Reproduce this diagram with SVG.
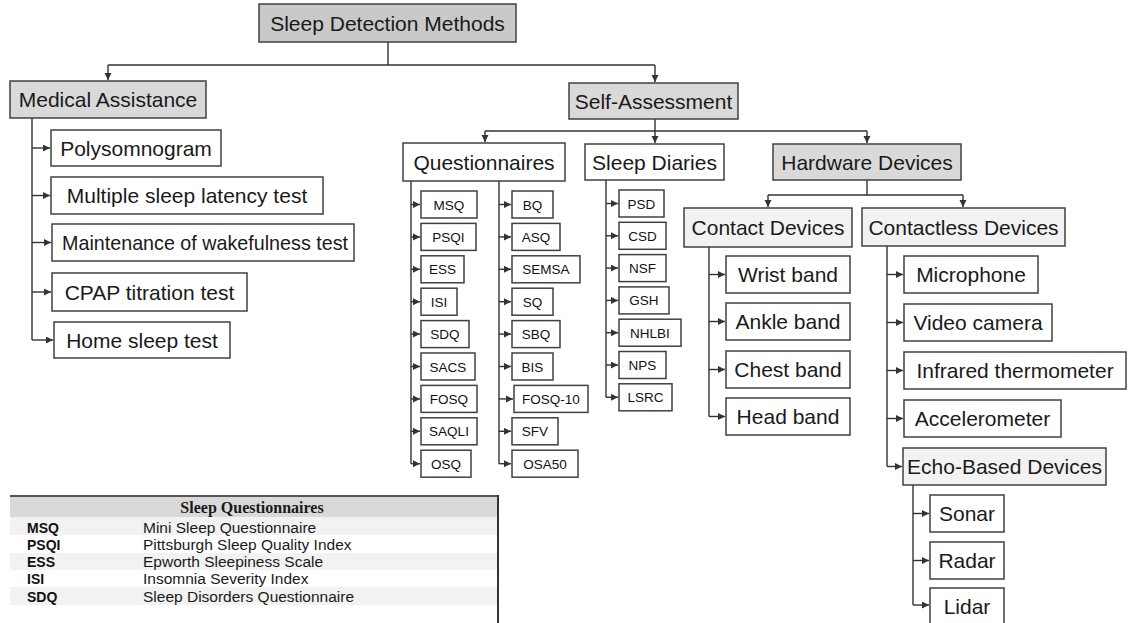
<svg xmlns="http://www.w3.org/2000/svg" width="1128" height="623" viewBox="0 0 1128 623">
<style>
.b{stroke:#404040;stroke-width:1.5;fill:#fff}
.g1{fill:#c9c9c9}
.g2{fill:#d9d9d9}
.g3{fill:#f2f2f2}
.t{font-family:"Liberation Sans",Arial,sans-serif;font-size:21px;fill:#1a1a1a;text-anchor:middle}
.s{font-family:"Liberation Sans",Arial,sans-serif;font-size:13.5px;fill:#111;text-anchor:middle}
.c{fill:none;stroke:#333;stroke-width:1.4}
.a{fill:none;stroke:#333;stroke-width:1.4;marker-end:url(#ah)}
.th{font-family:"Liberation Serif","Times New Roman",serif;font-size:16px;font-weight:bold;fill:#1a1a1a;text-anchor:middle}
.ab{font-family:"Liberation Sans",Arial,sans-serif;font-size:14px;font-weight:bold;fill:#111}
.de{font-family:"Liberation Sans",Arial,sans-serif;font-size:15.5px;fill:#1a1a1a}
</style>
<defs>
<marker id="ah" markerUnits="userSpaceOnUse" markerWidth="8" markerHeight="8" refX="7" refY="3.5" orient="auto">
<path d="M0,0 L7,3.5 L0,7 z" fill="#333"/>
</marker>
</defs>
<rect width="1128" height="623" fill="#fff"/>

<g id="connectors">
<path class="c" d="M388,42 V65 M108,65 H655"/>
<path class="a" d="M108,65 V80"/>
<path class="a" d="M655,65 V82"/>
<path class="c" d="M32,118 V340"/>
<path class="a" d="M32,148 H50"/>
<path class="a" d="M32,195.5 H50"/>
<path class="a" d="M32,242.5 H51"/>
<path class="a" d="M32,292 H51"/>
<path class="a" d="M32,340 H53"/>
<path class="c" d="M655,119 V131 M485,131 H867"/>
<path class="a" d="M485,131 V142"/>
<path class="a" d="M655,131 V143"/>
<path class="a" d="M867,131 V143"/>
<path class="c" d="M411,181 V463.7"/>
<path class="a" d="M411,204.5 H420"/>
<path class="a" d="M411,236.9 H420"/>
<path class="a" d="M411,269.3 H420"/>
<path class="a" d="M411,301.7 H420"/>
<path class="a" d="M411,334.1 H420"/>
<path class="a" d="M411,366.5 H420"/>
<path class="a" d="M411,398.9 H420"/>
<path class="a" d="M411,431.3 H420"/>
<path class="a" d="M411,463.7 H420"/>
<path class="c" d="M499,181 V463.7"/>
<path class="a" d="M499,204.5 H511"/>
<path class="a" d="M499,236.9 H511"/>
<path class="a" d="M499,269.3 H511"/>
<path class="a" d="M499,301.7 H511"/>
<path class="a" d="M499,334.1 H511"/>
<path class="a" d="M499,366.5 H511"/>
<path class="a" d="M499,398.9 H513"/>
<path class="a" d="M499,431.3 H511"/>
<path class="a" d="M499,463.7 H511"/>
<path class="c" d="M606,180 V397.3"/>
<path class="a" d="M606,203.5 H618"/>
<path class="a" d="M606,235.8 H618"/>
<path class="a" d="M606,268.1 H618"/>
<path class="a" d="M606,300.4 H618"/>
<path class="a" d="M606,332.7 H618"/>
<path class="a" d="M606,365 H618"/>
<path class="a" d="M606,397.3 H618"/>
<path class="c" d="M867,180 V195 M768,195 H963"/>
<path class="a" d="M768,195 V207"/>
<path class="a" d="M963,195 V207"/>
<path class="c" d="M709,247 V416.5"/>
<path class="a" d="M709,274.5 H725"/>
<path class="a" d="M709,321.5 H725"/>
<path class="a" d="M709,369.5 H725"/>
<path class="a" d="M709,416.5 H725"/>
<path class="c" d="M887,246 V466.5"/>
<path class="a" d="M887,274.5 H903"/>
<path class="a" d="M887,322.5 H903"/>
<path class="a" d="M887,370.5 H903"/>
<path class="a" d="M887,418.5 H903"/>
<path class="a" d="M887,466.5 H902"/>
<path class="c" d="M913,485 V605"/>
<path class="a" d="M913,513.5 H929"/>
<path class="a" d="M913,560.5 H929"/>
<path class="a" d="M913,605 H929"/>
</g>

<g id="sleep-detection-methods"><rect class="b g1" x="259" y="4" width="257" height="38"/><text class="t" x="387.5" y="30.5">Sleep Detection Methods</text></g>
<g id="medical-assistance"><rect class="b g2" x="10" y="81" width="196" height="37"/><text class="t" x="108" y="107">Medical Assistance</text></g>
<g id="self-assessment"><rect class="b g2" x="569" y="83" width="169" height="36"/><text class="t" x="653.5" y="108.5">Self-Assessment</text></g>

<g id="polysomnogram"><rect class="b" x="51" y="130" width="170" height="36"/><text class="t" x="136" y="155.5">Polysomnogram</text></g>
<g id="mslt"><rect class="b" x="51" y="177" width="272" height="37"/><text class="t" x="187" y="203">Multiple sleep latency test</text></g>
<g id="mwt"><rect class="b" x="52" y="224" width="302" height="37"/><text class="t" x="205" y="250" textLength="286" lengthAdjust="spacingAndGlyphs">Maintenance of wakefulness test</text></g>
<g id="cpap"><rect class="b" x="52" y="273" width="195" height="38"/><text class="t" x="149.5" y="299.5">CPAP titration test</text></g>
<g id="home-sleep-test"><rect class="b" x="54" y="322" width="176" height="36"/><text class="t" x="142" y="347.5">Home sleep test</text></g>

<g id="questionnaires"><rect class="b" x="403" y="143" width="162" height="38"/><text class="t" x="484" y="169.5">Questionnaires</text></g>
<g id="sleep-diaries"><rect class="b" x="585" y="144" width="139" height="36"/><text class="t" x="654.5" y="169.5">Sleep Diaries</text></g>
<g id="hardware-devices"><rect class="b g2" x="773" y="144" width="188" height="36"/><text class="t" x="867" y="169.5">Hardware Devices</text></g>

<g id="msq"><rect class="b" x="421" y="191" width="56" height="27"/><text class="s" x="449" y="209.5">MSQ</text></g>
<g id="psqi"><rect class="b" x="421" y="223.4" width="55" height="27"/><text class="s" x="448.5" y="241.9">PSQI</text></g>
<g id="ess"><rect class="b" x="421" y="255.8" width="43" height="27"/><text class="s" x="442.5" y="274.3">ESS</text></g>
<g id="isi"><rect class="b" x="421" y="288.2" width="36" height="27"/><text class="s" x="439" y="306.7">ISI</text></g>
<g id="sdq"><rect class="b" x="421" y="320.6" width="48" height="27"/><text class="s" x="445" y="339.1">SDQ</text></g>
<g id="sacs"><rect class="b" x="421" y="353" width="54" height="27"/><text class="s" x="448" y="371.5">SACS</text></g>
<g id="fosq"><rect class="b" x="421" y="385.4" width="56" height="27"/><text class="s" x="449" y="403.9">FOSQ</text></g>
<g id="saqli"><rect class="b" x="421" y="417.8" width="56" height="27"/><text class="s" x="449" y="436.3">SAQLI</text></g>
<g id="osq"><rect class="b" x="421" y="450.2" width="50" height="27"/><text class="s" x="446" y="468.7">OSQ</text></g>

<g id="bq"><rect class="b" x="512" y="191" width="41" height="27"/><text class="s" x="532.5" y="209.5">BQ</text></g>
<g id="asq"><rect class="b" x="512" y="223.4" width="48" height="27"/><text class="s" x="536" y="241.9">ASQ</text></g>
<g id="semsa"><rect class="b" x="512" y="255.8" width="68" height="27"/><text class="s" x="546" y="274.3">SEMSA</text></g>
<g id="sq"><rect class="b" x="512" y="288.2" width="41" height="27"/><text class="s" x="532.5" y="306.7">SQ</text></g>
<g id="sbq"><rect class="b" x="512" y="320.6" width="48" height="27"/><text class="s" x="536" y="339.1">SBQ</text></g>
<g id="bis"><rect class="b" x="512" y="353" width="41" height="27"/><text class="s" x="532.5" y="371.5">BIS</text></g>
<g id="fosq-10"><rect class="b" x="514" y="385.4" width="74" height="27"/><text class="s" x="551" y="403.9">FOSQ-10</text></g>
<g id="sfv"><rect class="b" x="512" y="417.8" width="46" height="27"/><text class="s" x="535" y="436.3">SFV</text></g>
<g id="osa50"><rect class="b" x="512" y="450.2" width="66" height="27"/><text class="s" x="545" y="468.7">OSA50</text></g>

<g id="psd"><rect class="b" x="619" y="190" width="45" height="27"/><text class="s" x="641.5" y="208.5">PSD</text></g>
<g id="csd"><rect class="b" x="619" y="222.3" width="47" height="27"/><text class="s" x="642.5" y="240.8">CSD</text></g>
<g id="nsf"><rect class="b" x="619" y="254.6" width="47" height="27"/><text class="s" x="642.5" y="273.1">NSF</text></g>
<g id="gsh"><rect class="b" x="619" y="286.9" width="50" height="27"/><text class="s" x="644" y="305.4">GSH</text></g>
<g id="nhlbi"><rect class="b" x="619" y="319.2" width="62" height="27"/><text class="s" x="650" y="337.7">NHLBI</text></g>
<g id="nps"><rect class="b" x="619" y="351.5" width="47" height="27"/><text class="s" x="642.5" y="370">NPS</text></g>
<g id="lsrc"><rect class="b" x="619" y="383.8" width="53" height="27"/><text class="s" x="645.5" y="402.3">LSRC</text></g>

<g id="contact-devices"><rect class="b g3" x="684" y="208" width="168" height="39"/><text class="t" x="768" y="235">Contact Devices</text></g>
<g id="contactless-devices"><rect class="b g3" x="862" y="208" width="203" height="38"/><text class="t" x="963.5" y="234.5">Contactless Devices</text></g>

<g id="wrist-band"><rect class="b" x="726" y="256" width="124" height="37"/><text class="t" x="788" y="282">Wrist band</text></g>
<g id="ankle-band"><rect class="b" x="726" y="303" width="124" height="37"/><text class="t" x="788" y="329">Ankle band</text></g>
<g id="chest-band"><rect class="b" x="726" y="351" width="124" height="37"/><text class="t" x="788" y="377">Chest band</text></g>
<g id="head-band"><rect class="b" x="726" y="398" width="124" height="37"/><text class="t" x="788" y="424">Head band</text></g>

<g id="microphone"><rect class="b" x="904" y="256" width="134" height="37"/><text class="t" x="971" y="282">Microphone</text></g>
<g id="video-camera"><rect class="b" x="904" y="304" width="148" height="37"/><text class="t" x="978" y="330">Video camera</text></g>
<g id="infrared-thermometer"><rect class="b" x="904" y="352" width="222" height="37"/><text class="t" x="1015" y="378">Infrared thermometer</text></g>
<g id="accelerometer"><rect class="b" x="904" y="400" width="157" height="37"/><text class="t" x="982.5" y="426">Accelerometer</text></g>
<g id="echo-based-devices"><rect class="b g3" x="903" y="448" width="203" height="37"/><text class="t" x="1004.5" y="474">Echo-Based Devices</text></g>

<g id="sonar"><rect class="b" x="930" y="495" width="74" height="37"/><text class="t" x="967" y="521">Sonar</text></g>
<g id="radar"><rect class="b" x="930" y="542" width="74" height="37"/><text class="t" x="967" y="568">Radar</text></g>
<g id="lidar"><rect class="b" x="930" y="588" width="74" height="40"/><text class="t" x="967" y="614">Lidar</text></g>

<g id="table">
<rect x="10" y="496" width="488" height="21" fill="#d9d9d9"/>
<rect x="10" y="517" width="488" height="18" fill="#f2f2f2"/>
<rect x="10" y="553" width="488" height="17" fill="#f2f2f2"/>
<rect x="10" y="587" width="488" height="18" fill="#f2f2f2"/>
<line x1="10" y1="496" x2="499" y2="496" stroke="#555" stroke-width="2"/>
<line x1="498" y1="495" x2="498" y2="623" stroke="#333" stroke-width="2"/>
<text class="th" x="252" y="513">Sleep Questionnaires</text>
<text class="ab" x="27" y="533">MSQ</text><text class="de" x="143" y="533">Mini Sleep Questionnaire</text>
<text class="ab" x="27" y="550">PSQI</text><text class="de" x="143" y="550">Pittsburgh Sleep Quality Index</text>
<text class="ab" x="27" y="567">ESS</text><text class="de" x="143" y="567">Epworth Sleepiness Scale</text>
<text class="ab" x="27" y="584">ISI</text><text class="de" x="143" y="584">Insomnia Severity Index</text>
<text class="ab" x="27" y="602">SDQ</text><text class="de" x="143" y="602">Sleep Disorders Questionnaire</text>
</g>
</svg>
